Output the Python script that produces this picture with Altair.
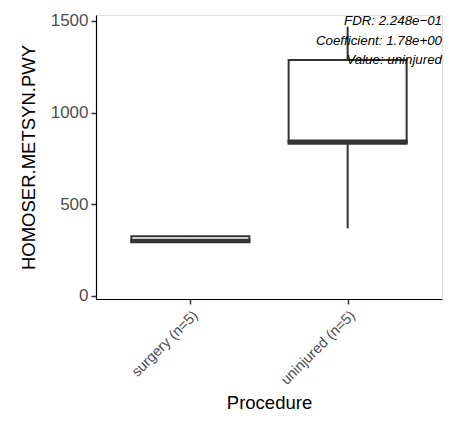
import altair as alt
import pandas as pd

# ---- data ----
groups = ["surgery (n=5)", "uninjured (n=5)"]
whisker_low = [290, 369]
q1 = [293, 830]
median = [301, 843]
q3 = [326, 1287]
whisker_high = [329, 1469]
y_ticks = [0, 500, 1000, 1500]
annotation = ["FDR: 2.248e\u221201", "Coefficient: 1.78e+00", "Value: uninjured"]

df = pd.DataFrame({
    "group": groups,
    "lo": whisker_low,
    "q1": q1,
    "med": median,
    "q3": q3,
    "hi": whisker_high,
})
ann_df = pd.DataFrame({"label": ["\n".join(annotation)]})

W, H = 346, 284
FONT = "Liberation Sans"
DARK = "#333333"

xscale = alt.Scale(type="point", padding=0.6, domain=groups)
yscale = alt.Scale(domain=[-16.4, 1532.7], nice=False, zero=False)

x_enc = alt.X(
    "group:N", scale=xscale, sort=groups,
    axis=alt.Axis(
        title="Procedure", labelAngle=315, labelAlign="right", labelBaseline="top",
        labelFontSize=14.5, labelColor="#4D4D4D", labelPadding=4,
        tickSize=5, tickColor=DARK, tickWidth=1.5, domainColor="black", domainWidth=1.2,
        titleFontSize=18.5, titleFontWeight="normal", titleColor="black", titlePadding=7,
        grid=False,
    ),
)
y_axis = alt.Axis(
    title="HOMOSER.METSYN.PWY", values=y_ticks, format="d", labelFontSize=17,
    labelColor="#4D4D4D", labelPadding=3, tickSize=5, tickColor=DARK, tickWidth=1.5,
    domainColor="black", domainWidth=1.2, titleFontSize=18.5, titleFontWeight="normal",
    titleColor="black", titlePadding=12, grid=False,
)

base = alt.Chart(df)

whiskers = base.mark_rule(color=DARK, strokeWidth=2).encode(
    x=x_enc,
    y=alt.Y("lo:Q", scale=yscale, axis=y_axis),
    y2="hi:Q",
)
boxes = base.mark_bar(size=118, fill="white", stroke=DARK, strokeWidth=2).encode(
    x=x_enc,
    y=alt.Y("q1:Q", scale=yscale, axis=y_axis),
    y2="q3:Q",
)
medians = base.mark_tick(size=120, thickness=4, color=DARK, opacity=1).encode(
    x=x_enc,
    y=alt.Y("med:Q", scale=yscale, axis=y_axis),
)
text = alt.Chart(ann_df).mark_text(
    align="right", baseline="alphabetic", fontStyle="italic", fontSize=13.3,
    lineHeight=19.5, lineBreak="\n", color="black", font=FONT,
).encode(
    x=alt.value(W),
    y=alt.value(10),
    text="label:N",
)

chart = alt.layer(whiskers, boxes, medians, text).properties(
    width=W, height=H,
    autosize=alt.AutoSizeParams(type="none"),
    padding={"left": 88, "top": 7, "right": 8, "bottom": 116},
).configure_view(stroke=None).configure(font=FONT)

chart.save("out.html", embed_options={"renderer": "svg", "actions": False})
